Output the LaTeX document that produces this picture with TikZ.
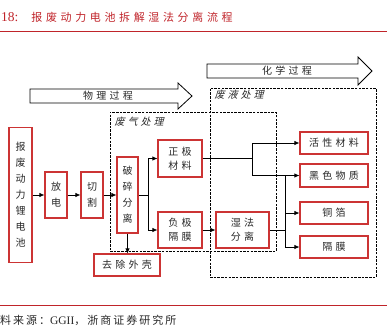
\documentclass[tikz,border=0pt]{standalone}
\usepackage{fontspec}
\setmainfont{Liberation Serif}
\newfontfamily\cjk{Noto Sans CJK SC}
\newfontfamily\cjkls[LetterSpace=32]{Noto Sans CJK SC}
\newfontfamily\cjkt[LetterSpace=33]{Noto Sans CJK SC}
\newfontfamily\cjkit[FakeSlant=0.25,LetterSpace=30]{Noto Sans CJK SC}
\newfontfamily\cjksrc[LetterSpace=18]{Noto Sans CJK SC}
\usetikzlibrary{arrows.meta}
\definecolor{titlered}{RGB}{192,36,42}
\definecolor{boxred}{RGB}{204,52,52}
\definecolor{txt}{RGB}{40,40,40}
\tikzset{
  rbox/.style={draw=boxred, line width=1.1pt, fill=white, inner sep=0pt, align=center, text=txt,
    font=\cjkls\fontsize{10}{14}\selectfont},
  vbox/.style={rbox, font=\cjk\fontsize{10}{16}\selectfont},
  conn/.style={line width=0.8pt},
  arr/.style={conn, -{Latex[length=5pt,width=4.5pt]}},
  dashbox/.style={draw, dash pattern=on 2.5pt off 1.2pt, line width=0.9pt, inner sep=0pt},
  bigarrow/.style={draw, line width=0.8pt, fill=white},
  lbl/.style={font=\cjkls\fontsize{10}{12}\selectfont, inner sep=0pt, text=txt},
  itlbl/.style={font=\cjkit\fontsize{10}{12}\selectfont, inner sep=0pt, text=txt},
}
\begin{document}
\begin{tikzpicture}[x=1pt,y=-1pt]
\useasboundingbox (0,0) rectangle (387,333);
% title
\node[anchor=west, inner sep=0pt, text=titlered] (title) at (1,17)
  {\fontsize{13.5}{13.5}\selectfont 18:\hspace{13pt}{\cjkt\fontsize{11}{11}\selectfont 报废动力电池拆解湿法分离流程}};
\draw[titlered, line width=0.8pt] (0,31) -- (387,31);
\draw[titlered, line width=0.8pt] (0,305) -- (387,305);
\node[anchor=west, inner sep=0pt, text=txt] (src) at (0,320)
  {\cjksrc\fontsize{11}{11}\selectfont 料来源：{\rmfamily\fontsize{11.5}{11}\selectfont GGII}，浙商证券研究所};

% big arrows
\draw[bigarrow] (30,89) -- (178,89) -- (178,83) -- (192,96) -- (178,109) -- (178,103) -- (30,103) -- cycle;
\node[lbl] (phys) at (108,96) {物理过程};
\draw[bigarrow] (207,64) -- (358,64) -- (358,57) -- (372,71) -- (358,85) -- (358,78) -- (207,78) -- cycle;
\node[lbl] (chem) at (287,71) {化学过程};

% dashed boxes
\node[dashbox, minimum width=166pt, minimum height=139pt] (gas) at (193,181.5) {};
\node[dashbox, minimum width=166pt, minimum height=189pt] (liq) at (293,182.5) {};
\node[itlbl] (gaslbl) at (139,122) {废气处理};
\node[itlbl] (liqlbl) at (239,95) {废液处理};

% process boxes
\node[vbox, minimum width=23pt, minimum height=135pt] (bat) at (20.5,195) {报\\废\\动\\力\\锂\\电\\池};
\node[vbox, minimum width=22pt, minimum height=46pt] (fd) at (56,195) {放\\电};
\node[vbox, minimum width=22pt, minimum height=46pt] (qg) at (92,195) {切\\割};
\node[vbox, minimum width=21pt, minimum height=76pt] (ps) at (127.5,195) {破\\碎\\分\\离};
\node[rbox, minimum width=44pt, minimum height=37pt] (zj) at (180,158.5) {正极\\材料};
\node[rbox, minimum width=44pt, minimum height=36pt] (fj) at (180,230) {负极\\隔膜};
\node[rbox, minimum width=66pt, minimum height=22pt] (qc) at (127,265) {去除外壳};
\node[rbox, minimum width=53pt, minimum height=36pt] (sf) at (242.5,230) {湿法\\分离};
\node[rbox, minimum width=68pt, minimum height=22pt] (hx) at (334,143) {活性材料};
\node[rbox, minimum width=68pt, minimum height=23pt] (hs) at (334,175.5) {黑色物质};
\node[rbox, minimum width=68pt, minimum height=22pt] (tb) at (334,213) {铜箔};
\node[rbox, minimum width=68pt, minimum height=22pt] (gm) at (334,247) {隔膜};

% connectors
\draw[arr] (bat) -- (fd);
\draw[arr] (fd) -- (qg);
\draw[arr] (qg) -- (ps);
\coordinate (j1) at (148,195);
\draw[conn] (ps.east) -- (j1);
\draw[arr] (j1) |- (zj.west);
\draw[arr] (j1) |- (fj.west);
\draw[arr] (ps.south) -- (ps.south |- qc.north);
\draw[arr] (fj) -- (sf);
\coordinate (j2) at (252,158.5);
\draw[conn] (zj.east) -- (j2);
\draw[arr] (j2) |- (hx.west);
\draw[arr] (j2) |- (hs.west);
\coordinate (j3) at (285,230);
\draw[conn] (sf.east) -- (j3);
\draw[conn] (j3) -- (j3 |- hs.west);
\draw[arr] (j3) |- (tb.west);
\draw[arr] (j3) |- (gm.west);
\end{tikzpicture}
\end{document}
